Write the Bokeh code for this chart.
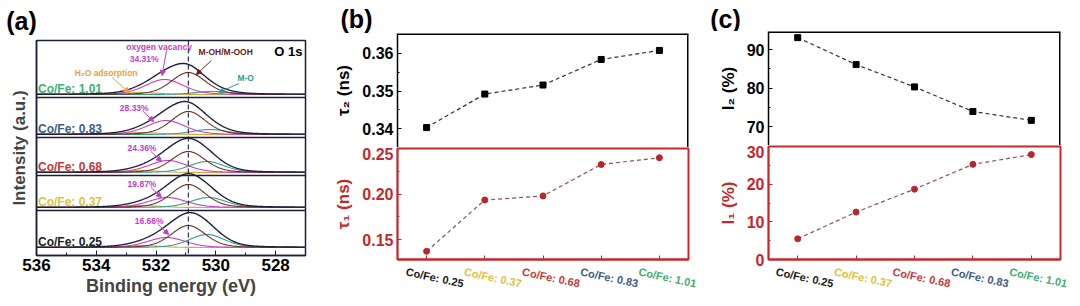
import numpy as np
from bokeh.plotting import figure
from bokeh.layouts import row, column
from bokeh.models import (Range1d, FixedTicker, Label, Arrow, NormalHead, Span,
                          NumeralTickFormatter, ColumnDataSource)
from bokeh.core.properties import value
from bokeh.embed import file_html
from bokeh.resources import INLINE

# ---------------- data ----------------
samples = ["Co/Fe: 0.25", "Co/Fe: 0.37", "Co/Fe: 0.68", "Co/Fe: 0.83", "Co/Fe: 1.01"]
sample_colors = ["#1c1c1c", "#dcc43c", "#c43a3a", "#3e5d86", "#3fae74"]
ov_percent = ["16.66%", "19.87%", "24.36%", "28.33%", "34.31%"]

# O 1s fitted components: centre (eV), height (a.u.), FWHM (eV)
moh_center = [530.92, 530.92, 530.92, 530.92, 530.92]
moh_height = [22, 23, 21, 23, 22]
moh_fwhm = [1.35, 1.35, 1.35, 1.35, 1.35]
ov_center = [531.65, 531.62, 531.60, 531.67, 531.72]
ov_height = [10, 10, 12, 14, 15]
ov_fwhm = [1.5, 1.5, 1.5, 1.5, 1.5]
mo_center = [530.30, 530.25, 530.30, 530.20, 530.10]
mo_height = [13, 10, 11, 5, 3]
mo_fwhm = [1.4, 1.4, 1.4, 1.4, 1.4]
h2o_center = [532.5, 532.5, 532.5, 532.5, 532.5]
h2o_height = [2, 2, 2, 2, 2]
h2o_fwhm = [1.4, 1.4, 1.4, 1.4, 1.4]
be_ticks = [536, 534, 532, 530, 528]
be_minor = [535, 533, 531, 529, 527]

# lifetimes (ns) and intensities (%)
x_idx = [1, 2, 3, 4, 5]
tau2 = [0.3403, 0.3492, 0.3516, 0.3584, 0.3608]
tau1 = [0.137, 0.1935, 0.198, 0.2326, 0.240]
I2 = [93.1, 86.1, 80.3, 73.9, 71.6]
I1 = [5.5, 12.6, 18.7, 25.3, 27.9]

FONT = "Liberation Sans"
RED = "#c4282c"
NAVY = "#1c1f3c"
COMMON = dict(output_backend="svg", toolbar_location=None, frame_align=False)


def pv(x, c, h, fwhm, eta=0.25):
    s = fwhm / (2 * np.sqrt(2 * np.log(2)))
    g = np.exp(-(x - c) ** 2 / (2 * s ** 2))
    l = 1.0 / (1.0 + ((x - c) / (fwhm / 2)) ** 2)
    return h * ((1 - eta) * g + eta * l)


def add_label(p, x, y, text, color="black", size="11px", bold=True, align="left",
              baseline="middle", angle=0.0):
    p.add_layout(Label(x=x, y=y, text=text, text_color=color, text_font=FONT,
                       text_font_size=size, text_font_style="bold" if bold else "normal",
                       text_align=align, text_baseline=baseline, angle=angle))


def add_arrow(p, x0, y0, x1, y1, color):
    p.add_layout(Arrow(end=NormalHead(size=5, line_color=color, fill_color=color),
                       x_start=x0, y_start=y0, x_end=x1, y_end=y1,
                       line_color=color, line_width=1))


def blank_fig(width, height, xr, yr):
    p = figure(width=width, height=height, x_range=xr, y_range=yr,
               x_axis_location=None, y_axis_location=None, outline_line_color=None,
               min_border_left=0, min_border_right=0, min_border_top=0, min_border_bottom=0,
               **COMMON)
    p.grid.visible = False
    return p


def header(width, height, text, cx, cy):
    h = blank_fig(width, height, Range1d(0, width), Range1d(0, height))
    h.text(x=[cx], y=[height - cy], text=[text], text_font=value(FONT),
           text_font_size="25px", text_font_style="bold", text_color="black",
           text_align="center", text_baseline="middle")
    return h


# ---------------- panel (a) ----------------
ha = header(330, 39, "(a)", 21, 20)
pa = figure(width=330, height=267, x_range=Range1d(536, 527), y_range=Range1d(0, 215),
            min_border_left=36, min_border_right=25, min_border_top=1, min_border_bottom=51,
            outline_line_color=NAVY, outline_line_width=1.5, **COMMON)
pa.grid.visible = False
xa = pa.xaxis[0]
xa.ticker = FixedTicker(ticks=be_ticks, minor_ticks=be_minor)
xa.major_tick_in = 5
xa.major_tick_out = 0
xa.minor_tick_in = 3
xa.minor_tick_out = 0
xa.major_tick_line_color = NAVY
xa.minor_tick_line_color = NAVY
xa.axis_line_color = NAVY
xa.axis_line_width = 1.5
xa.major_label_text_font = FONT
xa.major_label_text_font_size = "17px"
xa.major_label_text_font_style = "bold"
xa.major_label_text_color = "black"
xa.major_label_standoff = 3
xa.axis_label = "Binding energy (eV)"
xa.axis_label_text_font = FONT
xa.axis_label_text_font_size = "18px"
xa.axis_label_text_font_style = "bold"
xa.axis_label_standoff = 2
ya = pa.yaxis[0]
ya.ticker = FixedTicker(ticks=[])
ya.major_label_text_font_size = "0px"
ya.axis_line_color = NAVY
ya.axis_line_width = 1.5
ya.axis_label = "Intensity (a.u.)"
ya.axis_label_text_font = FONT
ya.axis_label_text_font_size = "17px"
ya.axis_label_text_font_style = "bold"
ya.axis_label_standoff = 8

baselines = [8, 48, 83, 121, 161]
separators = [45, 80, 118, 158]
for s in separators:
    pa.add_layout(Span(location=s, dimension="width", line_color=NAVY, line_width=1.3))

E = np.linspace(527, 536, 451)
for i in range(5):
    b = baselines[i]
    moh = pv(E, moh_center[i], moh_height[i], moh_fwhm[i])
    ov = pv(E, ov_center[i], ov_height[i], ov_fwhm[i])
    mo = pv(E, mo_center[i], mo_height[i], mo_fwhm[i])
    h2o = pv(E, h2o_center[i], h2o_height[i], h2o_fwhm[i])
    env = moh + ov + mo + h2o
    pa.line(E, b + h2o, line_color="#e8a23c", line_width=1.1)
    pa.line(E, b + mo, line_color="#2f9e8c", line_width=1.1)
    pa.line(E, b + ov, line_color="#c83cc8", line_width=1.1)
    pa.line(E, b + moh, line_color="#6e2c20", line_width=1.1)
    pa.line(E, b + env, line_color=NAVY, line_width=1.4)
    add_label(pa, 535.95, b + 6, samples[i], sample_colors[i], size="12px")

pa.add_layout(Span(location=530.92, dimension="height", line_color=NAVY,
                   line_width=1.1, line_dash="5 3"))

pct_x = [532.23, 532.47, 532.47, 532.73, 532.40]
pct_dy = [27, 24, 25, 27, 36]
for i in range(5):
    add_label(pa, pct_x[i], baselines[i] + pct_dy[i], ov_percent[i], "#c83cc8",
              size="8.5px", align="center")
    if i < 4:
        add_arrow(pa, pct_x[i] - 0.3, baselines[i] + pct_dy[i] - 4,
                  pct_x[i] - 0.65, baselines[i] + pct_dy[i] - 14, "#c83cc8")

add_label(pa, 531.9, 209, "oxygen vacancy", "#c83cc8", size="8.5px", align="center")
add_arrow(pa, 531.65, 205, 531.8, 180, "#c83cc8")
add_label(pa, 529.67, 204, "M-OH/M-OOH", "#6e2020", size="8.5px", align="center")
add_arrow(pa, 530.15, 195, 530.65, 181, "#6e2020")
add_label(pa, 527.1, 204, "O 1s", "black", size="13px", align="right")
add_label(pa, 533.67, 183, "H\u2082O adsorption", "#e8a23c", size="8.5px", align="center")
add_arrow(pa, 533.47, 178, 532.9, 163, "#e8a23c")
add_label(pa, 529.0, 178, "M-O", "#2f9e8c", size="8.5px", align="center")
add_arrow(pa, 529.23, 172, 529.9, 163, "#2f9e8c")


# ---------------- helpers for (b) and (c) ----------------
def style_left(ax, color, ticks, minor, fmt, label):
    ax.ticker = FixedTicker(ticks=ticks, minor_ticks=minor)
    ax.formatter = NumeralTickFormatter(format=fmt)
    ax.major_tick_in = 4
    ax.major_tick_out = 0
    ax.minor_tick_in = 2
    ax.minor_tick_out = 0
    ax.major_tick_line_color = color
    ax.minor_tick_line_color = color
    ax.axis_line_color = color
    ax.axis_line_width = 1.5
    ax.major_label_text_font = FONT
    ax.major_label_text_font_size = "16px"
    ax.major_label_text_font_style = "bold"
    ax.major_label_text_color = color
    ax.major_label_standoff = 4
    ax.axis_label = label
    ax.axis_label_text_font = FONT
    ax.axis_label_text_font_size = "17px"
    ax.axis_label_text_font_style = "bold"
    ax.axis_label_text_color = color
    ax.axis_label_standoff = 6


def make_panel(width, left, right, head_h, head_text, head_cx, top_h, bot_h, cat_h,
               yr_top, yr_bot, top_ticks, top_minor, bot_ticks, bot_minor, fmt,
               lab_top, lab_bot, vals_top, vals_bot, cat_dx):
    xr = Range1d(0.5, 5.5)
    hd = header(width, head_h, head_text, head_cx, 18)

    pt = figure(width=width, height=top_h, x_range=xr, y_range=Range1d(*yr_top),
                x_axis_location=None, min_border_left=left, min_border_right=right,
                min_border_top=0, min_border_bottom=0, outline_line_color=None, **COMMON)
    pt.grid.visible = False
    style_left(pt.yaxis[0], "black", top_ticks, top_minor, fmt, lab_top)
    pt.add_layout(Span(location=yr_top[1], dimension="width", line_color="black", line_width=3))
    pt.add_layout(Span(location=5.5, dimension="height", line_color="black", line_width=3))
    pt.line(x_idx, vals_top, line_color="#333333", line_width=1.2, line_dash="4 3")
    pt.scatter(x_idx, vals_top, marker="square", size=6, color="black")

    pb = figure(width=width, height=bot_h + 9, x_range=xr, y_range=Range1d(*yr_bot),
                min_border_left=left, min_border_right=right, min_border_top=1,
                min_border_bottom=8, outline_line_color=RED, outline_line_width=2, **COMMON)
    pb.grid.visible = False
    style_left(pb.yaxis[0], RED, bot_ticks, bot_minor, fmt, lab_bot)
    xb = pb.xaxis[0]
    xb.ticker = FixedTicker(ticks=x_idx)
    xb.major_label_overrides = {i: "" for i in x_idx}
    xb.major_label_text_font_size = "0px"
    xb.major_label_standoff = 0
    xb.major_tick_in = 4
    xb.major_tick_out = 0
    xb.minor_tick_out = 0
    xb.major_tick_line_color = RED
    xb.axis_line_color = RED
    xb.axis_line_width = 2
    pb.line(x_idx, vals_bot, line_color="#8c5454", line_width=1.2, line_dash="4 3")
    pb.scatter(x_idx, vals_bot, marker="circle", size=6, color="#b8262a")

    # category labels strip sharing the same x scale
    fw = width - left - right
    cr = Range1d(0.5 - left / fw * 5.0, 0.5 + (width - left) / fw * 5.0)
    pc = blank_fig(width, cat_h, cr, Range1d(0, cat_h))
    src = ColumnDataSource(dict(x=[v + cat_dx for v in x_idx], y=[cat_h - 10] * 5,
                                t=samples, c=sample_colors))
    pc.text(x="x", y="y", text="t", text_color="c", source=src, text_font=value(FONT),
            text_font_size="11px", text_font_style="bold", text_align="center",
            text_baseline="middle", angle=-0.21)
    return column(hd, pt, pb, pc)


# panel (b): frame x 397..688, top 33..147, bottom 147..259
col_b = make_panel(width=370, left=67, right=12, head_h=33, head_text="(b)", head_cx=26,
                   top_h=114, bot_h=111, cat_h=306 - 33 - 114 - 120,
                   yr_top=(0.335, 0.3653), yr_bot=(0.128, 0.2502),
                   top_ticks=[0.34, 0.35, 0.36], top_minor=[0.335, 0.345, 0.355, 0.365],
                   bot_ticks=[0.15, 0.20, 0.25], bot_minor=[0.125, 0.175, 0.225],
                   fmt="0.00", lab_top="\u03c4\u2082 (ns)", lab_bot="\u03c4\u2081 (ns)",
                   vals_top=tau2, vals_bot=tau1, cat_dx=0.14)

# panel (c): frame x 768..1060, top 31..145, bottom 145..259
col_c = make_panel(width=380, left=68, right=20, head_h=31, head_text="(c)", head_cx=25,
                   top_h=114, bot_h=113, cat_h=306 - 31 - 114 - 122,
                   yr_top=(65.06, 94.7), yr_bot=(0.0, 30.05),
                   top_ticks=[70, 80, 90], top_minor=[65, 75, 85],
                   bot_ticks=[0, 10, 20, 30], bot_minor=[5, 15, 25],
                   fmt="0", lab_top="I\u2082 (%)", lab_bot="I\u2081 (%)",
                   vals_top=I2, vals_bot=I1, cat_dx=0.12)

layout = row(column(ha, pa), col_b, col_c)
open("out.html", "w").write(file_html(layout, INLINE))
